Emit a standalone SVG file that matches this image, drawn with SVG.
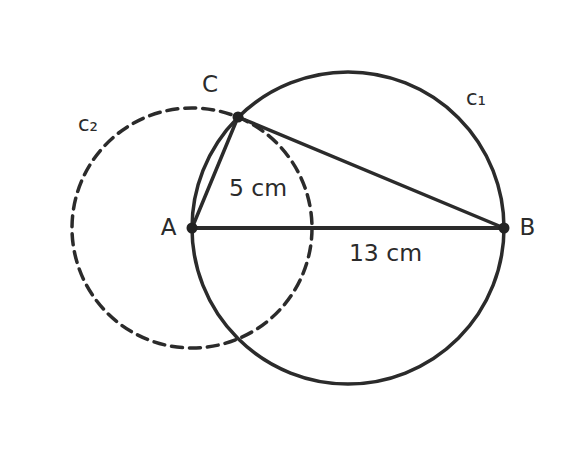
<svg xmlns="http://www.w3.org/2000/svg" width="576" height="456" viewBox="0 0 576 456">
<style>
.ln{stroke:#2b2b2b;fill:none;stroke-linecap:round}
.t{font-family:"DejaVu Sans",sans-serif;fill:#2b2b2b}
</style>
<rect width="576" height="456" fill="#fff"/>
<g id="c2"><circle class="ln" cx="192" cy="228" r="120" stroke-width="3.5" stroke-dasharray="11 7" stroke-linecap="butt"/><text class="t" x="88" y="131" font-size="21" text-anchor="middle">c₂</text></g>
<g id="c1"><circle class="ln" cx="348" cy="228" r="156" stroke-width="3.5"/><text class="t" x="476" y="105" font-size="21" text-anchor="middle">c₁</text></g>
<g id="connectors">
<line class="ln" x1="192" y1="228" x2="504" y2="228" stroke-width="4"/>
<line class="ln" x1="192" y1="228" x2="238" y2="117" stroke-width="3.5"/>
<line class="ln" x1="238" y1="117" x2="504" y2="228" stroke-width="3.5"/>
<text class="t" x="258" y="196" font-size="23.5" text-anchor="middle">5 cm</text>
<text class="t" x="385.5" y="261" font-size="23.5" text-anchor="middle">13 cm</text>
</g>
<g id="A"><circle cx="192" cy="228" r="5.5" fill="#222"/><text class="t" x="168.5" y="235" font-size="23" text-anchor="middle">A</text></g>
<g id="B"><circle cx="504" cy="228" r="5.5" fill="#222"/><text class="t" x="527.5" y="235" font-size="23" text-anchor="middle">B</text></g>
<g id="C"><circle cx="238" cy="117" r="5.5" fill="#222"/><text class="t" x="210" y="92" font-size="23" text-anchor="middle">C</text></g>
</svg>
